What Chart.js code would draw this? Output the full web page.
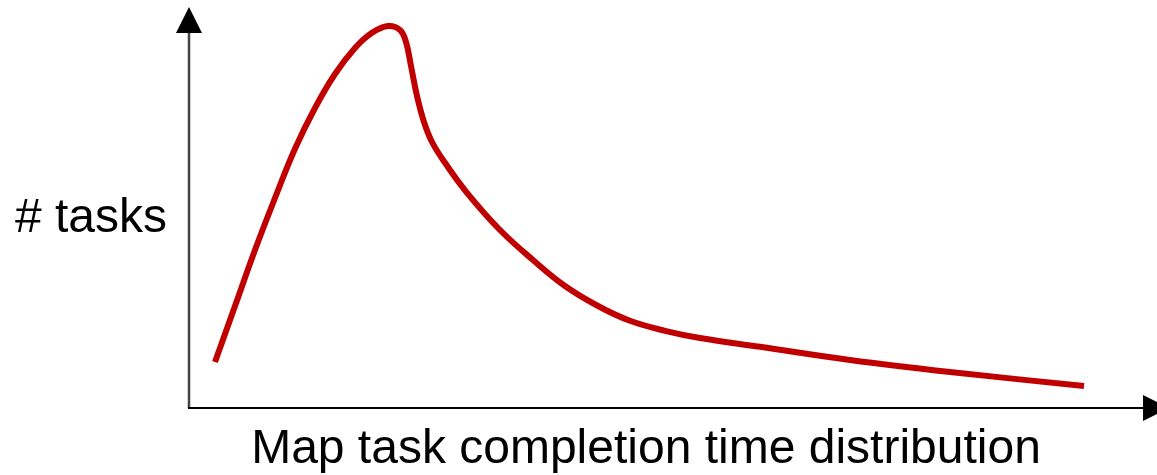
<!DOCTYPE html>
<html>
<head>
<meta charset="utf-8">
<script src="https://cdn.jsdelivr.net/npm/chart.js@4/dist/chart.umd.min.js"></script>
<style>
  html, body { margin: 0; padding: 0; background: #fff; }
  #wrap { width: 1157px; height: 475px; position: relative; }
</style>
</head>
<body>
<div id="wrap"><canvas id="chart"></canvas></div>
<script>
// completion time (arbitrary units) and number of tasks (arbitrary units)
var times = [2.6, 4.6, 6.6, 8.6, 10.6, 12.6, 14.6, 16.6, 18.3, 19.9, 21.1, 21.7, 22.2, 22.8, 23.5, 24.3, 25.6, 27.8, 31.1, 34.4, 37.6, 40.9, 44.1, 47.6, 51.1, 57.1, 66.1, 76.1, 89.5];
var tasks = [11.5, 25.5, 39.5, 52.5, 64.8, 75, 83.5, 90, 93.8, 95.5, 94.5, 91.5, 85.5, 78, 71.5, 66.5, 61.3, 53.8, 44.5, 37, 30.5, 25.5, 21.8, 19.3, 17.5, 15.3, 12, 9, 5.5];

var xTitle = "Map task completion time distribution";
var yTitle = "# tasks";

var points = [];
for (var i = 0; i < times.length; i++) {
  points.push({ x: times[i], y: tasks[i] });
}

// axes with arrow heads and the two labels
var axesPlugin = {
  id: "axes",
  afterDraw: function(chart) {
    var c = chart.ctx;
    var a = chart.chartArea;
    c.save();
    // y axis
    c.strokeStyle = "#444";
    c.lineWidth = 2.5;
    c.beginPath();
    c.moveTo(a.left, a.bottom);
    c.lineTo(a.left, a.top + 25);
    c.stroke();
    c.fillStyle = "#000";
    c.beginPath();
    c.moveTo(a.left, a.top - 1);
    c.lineTo(a.left - 13, a.top + 25);
    c.lineTo(a.left + 13, a.top + 25);
    c.closePath();
    c.fill();
    // x axis
    c.strokeStyle = "#000";
    c.lineWidth = 2;
    c.beginPath();
    c.moveTo(a.left - 1, a.bottom);
    c.lineTo(a.right - 6, a.bottom);
    c.stroke();
    c.beginPath();
    c.moveTo(a.right - 6, a.bottom - 13);
    c.lineTo(a.right + 20, a.bottom);
    c.lineTo(a.right - 6, a.bottom + 13);
    c.closePath();
    c.fill();
    // labels
    c.font = "48px 'Liberation Sans', Arial, sans-serif";
    c.fillStyle = "#000";
    c.textBaseline = "alphabetic";
    c.textAlign = "left";
    c.fillText(yTitle, 15, 232);
    c.textAlign = "center";
    c.fillText(xTitle, 646, 463);
    c.restore();
  }
};

new Chart(document.getElementById("chart"), {
  type: "line",
  data: {
    datasets: [{
      data: points,
      borderColor: "#c00000",
      borderWidth: 6,
      pointRadius: 0,
      fill: false,
      tension: 0.4,
      borderCapStyle: "butt"
    }]
  },
  options: {
    responsive: true,
    maintainAspectRatio: false,
    animation: false,
    events: [],
    layout: { padding: { left: 189, right: 8, top: 8, bottom: 67 } },
    plugins: { legend: { display: false }, tooltip: { enabled: false } },
    scales: {
      x: { type: "linear", min: 0, max: 96, display: false },
      y: { min: 0, max: 100, display: false }
    }
  },
  plugins: [axesPlugin]
});
</script>
</body>
</html>
